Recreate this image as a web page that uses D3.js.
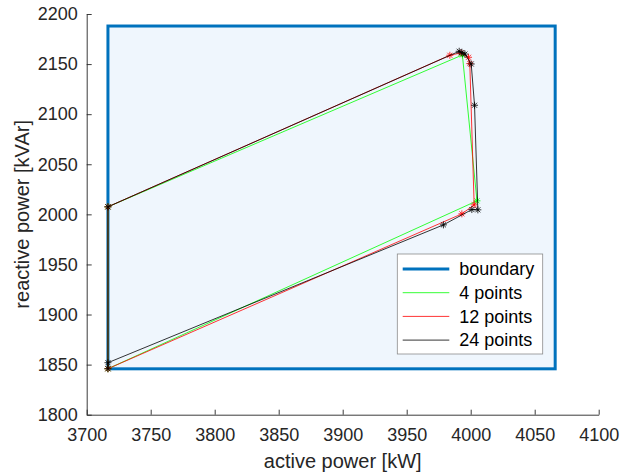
<!DOCTYPE html>
<html>
<head>
<meta charset="utf-8">
<script src="https://cdn.jsdelivr.net/npm/d3@7"></script>
<style>
  body { margin: 0; background: #fff; }
  svg { display: block; font-family: 'Liberation Sans', Arial, sans-serif; }
</style>
</head>
<body>
<div id="chart"></div>
<script>
// axis ticks
const xTicks = [3700, 3750, 3800, 3850, 3900, 3950, 4000, 4050, 4100];
const yTicks = [1800, 1850, 1900, 1950, 2000, 2050, 2100, 2150, 2200];

// operating boundary [kW], [kVAr]
const boundaryP = [3716.6, 4066];
const boundaryQ = [1845.8, 2188];

// approximations
const p4 = [3716.6, 3993.5, 4004.9, 3716.6];
const q4 = [2007.5, 2159.1, 2013.5, 1845.9];

const p12 = [3716.6, 3983.7, 3992.5, 3998.3, 3999.3, 4002.7, 3993.1, 3716.6];
const q12 = [2007.5, 2158.8, 2161.2, 2156.8, 2150.5, 2009.5, 2000.5, 1845.9];

const p24 = [3716.6, 3991.0, 3993.1, 3995.5, 4000.4, 4003.0, 4005.6, 4000.9, 3978.7, 3716.6, 3716.6];
const q24 = [2007.5, 2162.8, 2161.4, 2160.0, 2150.1, 2108.9, 2004.5, 2004.8, 1989.5, 1851.9, 1845.9];

const seriesNames = ['4 points', '12 points', '24 points'];
const seriesColors = ['#00ff00', '#ff0000', '#000000'];

const width = 622;
const height = 472;
const margin = { top: 14, right: 23.3, bottom: 57.3, left: 86.7 };

const svg = d3.select('#chart').append('svg').attr('width', width).attr('height', height);

const x = d3.scaleLinear().domain([3700, 4100]).range([margin.left, width - margin.right]);
const y = d3.scaleLinear().domain([1800, 2200]).range([height - margin.bottom, margin.top]);

const axisColor = '#262626';

// boundary rectangle
svg
  .append('rect')
  .attr('x', x(boundaryP[0]))
  .attr('y', y(boundaryQ[1]))
  .attr('width', x(boundaryP[1]) - x(boundaryP[0]))
  .attr('height', y(boundaryQ[0]) - y(boundaryQ[1]))
  .attr('fill', '#eff6fd')
  .attr('stroke', '#0072bd')
  .attr('stroke-width', 3);

const line = d3.line().x((d) => x(d[0])).y((d) => y(d[1]));

function asterisk(r) {
  const d = r * 0.72;
  return `M${-r},0H${r}M0,${-r}V${r}M${-d},${-d}L${d},${d}M${-d},${d}L${d},${-d}`;
}

const series = [
  [p4, q4],
  [p12, q12],
  [p24, q24],
];

series.forEach((s, i) => {
  const pts = s[0].map((p, j) => [p, s[1][j]]);
  const g = svg.append('g');
  g.append('path')
    .attr('d', line(pts.concat([pts[0]])))
    .attr('fill', 'none')
    .attr('stroke', seriesColors[i])
    .attr('stroke-width', 0.8);
  g.selectAll('path.m')
    .data(pts)
    .enter()
    .append('path')
    .attr('class', 'm')
    .attr('d', asterisk(3.5))
    .attr('transform', (d) => `translate(${x(d[0])},${y(d[1])})`)
    .attr('fill', 'none')
    .attr('stroke', seriesColors[i])
    .attr('stroke-width', 0.8);
});

// axes (MATLAB style, box off, ticks inside)
const xAxis = svg
  .append('g')
  .attr('transform', `translate(0,${height - margin.bottom})`)
  .call(d3.axisBottom(x).tickValues(xTicks).tickFormat(d3.format('d')).tickSizeInner(-5).tickSizeOuter(0).tickPadding(14));
const yAxis = svg
  .append('g')
  .attr('transform', `translate(${margin.left},0)`)
  .call(d3.axisLeft(y).tickValues(yTicks).tickFormat(d3.format('d')).tickSizeInner(-5).tickSizeOuter(0).tickPadding(9));

[xAxis, yAxis].forEach((a) => {
  a.select('.domain').attr('stroke', axisColor).attr('stroke-width', 0.9);
  a.selectAll('.tick line').attr('stroke', axisColor).attr('stroke-width', 0.9);
  a.selectAll('.tick text')
    .attr('fill', axisColor)
    .style('font-size', '18px')
    .style('font-family', "'Liberation Sans', Arial, sans-serif");
});

svg
  .append('text')
  .attr('x', (margin.left + width - margin.right) / 2)
  .attr('y', 468)
  .attr('text-anchor', 'middle')
  .attr('fill', axisColor)
  .style('font-size', '20px')
  .text('active power [kW]');

svg
  .append('text')
  .attr('transform', `translate(29,${(margin.top + height - margin.bottom) / 2}) rotate(-90)`)
  .attr('text-anchor', 'middle')
  .attr('fill', axisColor)
  .style('font-size', '20px')
  .text('reactive power [kVAr]');

// legend
const legend = svg.append('g');
legend
  .append('rect')
  .attr('x', 397.3)
  .attr('y', 254)
  .attr('width', 145.4)
  .attr('height', 100)
  .attr('fill', '#fff')
  .attr('stroke', '#8c8c8c')
  .attr('stroke-width', 0.8);

const legendNames = ['boundary'].concat(seriesNames);
const legendColors = ['#0072bd'].concat(seriesColors);
const legendWidths = [3, 0.8, 0.8, 0.8];

legendNames.forEach((name, i) => {
  const ly = 269 + i * 23.7;
  legend
    .append('line')
    .attr('x1', 402.7)
    .attr('x2', 449.3)
    .attr('y1', ly)
    .attr('y2', ly)
    .attr('stroke', legendColors[i])
    .attr('stroke-width', legendWidths[i]);
  legend
    .append('text')
    .attr('x', 459.3)
    .attr('y', ly)
    .attr('dy', '0.35em')
    .attr('fill', '#000')
    .style('font-size', '18px')
    .text(name);
});
</script>
</body>
</html>
